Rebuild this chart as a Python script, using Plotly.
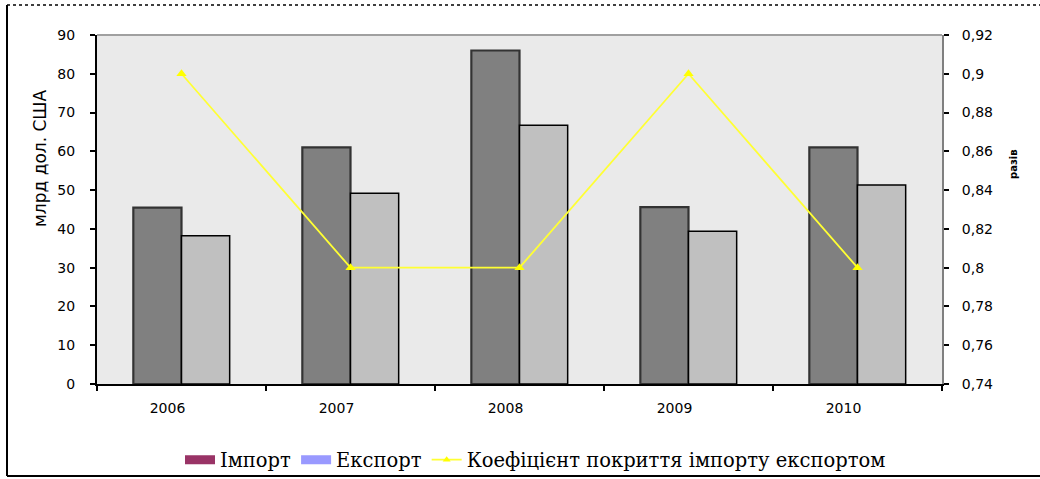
import plotly.graph_objects as go

years = ["2006", "2007", "2008", "2009", "2010"]
import_vals = [45.5, 61, 86, 45.6, 61]
export_vals = [38.2, 49.2, 66.7, 39.4, 51.3]
coverage = [0.9, 0.8, 0.8, 0.9, 0.8]

left_ticks = [0, 10, 20, 30, 40, 50, 60, 70, 80, 90]
right_ticks = [0.74, 0.76, 0.78, 0.80, 0.82, 0.84, 0.86, 0.88, 0.90, 0.92]

W, H = 1040, 479
L, R, T, B = 97, 98, 35, 95
PW, PH = W - L - R, H - T - B

def px(x):
    return (x - L) / PW

def py(y):
    return (H - B - y) / PH

tick_font = dict(family="DejaVu Sans", size=14, color="black")

fig = go.Figure()
fig.add_trace(go.Bar(
    x=years, y=import_vals, name="Імпорт", showlegend=False,
    marker=dict(color="#808080", line=dict(color="#333333", width=2.2)),
))
fig.add_trace(go.Bar(
    x=years, y=export_vals, name="Експорт", showlegend=False,
    marker=dict(color="#c0c0c0", line=dict(color="#000000", width=1.5)),
))
fig.add_trace(go.Scatter(
    x=years, y=coverage, yaxis="y2", mode="lines+markers", showlegend=False,
    name="Коефіцієнт покриття імпорту експортом",
    line=dict(color="#ffff33", width=1.8),
    marker=dict(symbol="triangle-up", size=9, color="#ffff00"),
))
# legend entries (legend colours differ from the bar fills in the original)
fig.add_trace(go.Scatter(
    x=[None], y=[None], mode="lines", name="Імпорт",
    line=dict(color="#993366", width=9),
))
fig.add_trace(go.Scatter(
    x=[None], y=[None], mode="lines", name="Експорт",
    line=dict(color="#9999ff", width=9),
))
fig.add_trace(go.Scatter(
    x=[None], y=[None], yaxis="y2", mode="lines+markers",
    name="Коефіцієнт покриття імпорту експортом",
    line=dict(color="#ffff33", width=1.8),
    marker=dict(symbol="triangle-up", size=7, color="#ffff00"),
))

shapes = [
    # plot top border
    dict(type="line", xref="paper", yref="paper", x0=0, x1=1, y0=1, y1=1,
         line=dict(color="#a0a0a0", width=2)),
    # outer chart frame
    dict(type="line", xref="paper", yref="paper", x0=px(7), x1=px(1040), y0=py(5), y1=py(5),
         line=dict(color="black", width=1.5, dash="dot")),
    dict(type="line", xref="paper", yref="paper", x0=px(7), x1=px(7), y0=py(5), y1=py(476),
         line=dict(color="black", width=2)),
    dict(type="line", xref="paper", yref="paper", x0=px(7), x1=px(1040), y0=py(476), y1=py(476),
         line=dict(color="black", width=2)),
]

annotations = [
    dict(text="млрд дол. США", xref="paper", yref="paper", x=px(40), y=py(158),
         textangle=-90, showarrow=False, xanchor="center", yanchor="middle",
         font=dict(family="DejaVu Sans", size=17, color="black")),
    dict(text="<b>разів</b>", xref="paper", yref="paper", x=px(1013), y=py(165),
         textangle=-90, showarrow=False, xanchor="center", yanchor="middle",
         font=dict(family="DejaVu Sans", size=10, color="black")),
]

fig.update_layout(
    width=W, height=H,
    margin=dict(l=L, r=R, t=T, b=B, pad=0),
    paper_bgcolor="white", plot_bgcolor="#eaeaea",
    separators=", ",
    barmode="group", bargap=0.43, bargroupgap=0,
    font=dict(family="DejaVu Sans", size=14, color="black"),
    xaxis=dict(
        type="category", showgrid=False, showline=True, linecolor="black", linewidth=2,
        ticks="outside", tickson="boundaries", ticklen=5, tickwidth=1.5, tickcolor="black",
        tickfont=tick_font, ticklabelshift=-14, ticklabelstandoff=10,
        zeroline=False,
    ),
    yaxis=dict(
        range=[0, 90], tickvals=left_ticks, showgrid=False, zeroline=False,
        showline=True, linecolor="black", linewidth=2,
        ticks="outside", ticklen=5, tickwidth=1.5, tickcolor="black",
        tickfont=tick_font, ticklabelstandoff=12,
    ),
    yaxis2=dict(
        range=[0.74, 0.92], tickvals=right_ticks, overlaying="y", side="right",
        showgrid=False, zeroline=False,
        showline=True, linecolor="#808080", linewidth=2,
        ticks="outside", ticklen=5, tickwidth=1.5, tickcolor="black",
        tickfont=tick_font, ticklabelstandoff=10,
    ),
    legend=dict(
        orientation="h", xref="container", yref="container",
        x=180 / W, y=1 - 460 / H, xanchor="left", yanchor="middle",
        font=dict(family="DejaVu Serif", size=19.5, color="black"),
        bgcolor="rgba(0,0,0,0)", itemwidth=30, tracegroupgap=0,
    ),
    shapes=shapes, annotations=annotations,
)

fig.write_html(
    "out.html",
    config={"displayModeBar": False},
    post_script="document.body.style.margin='0';document.body.style.overflow='hidden';",
)
